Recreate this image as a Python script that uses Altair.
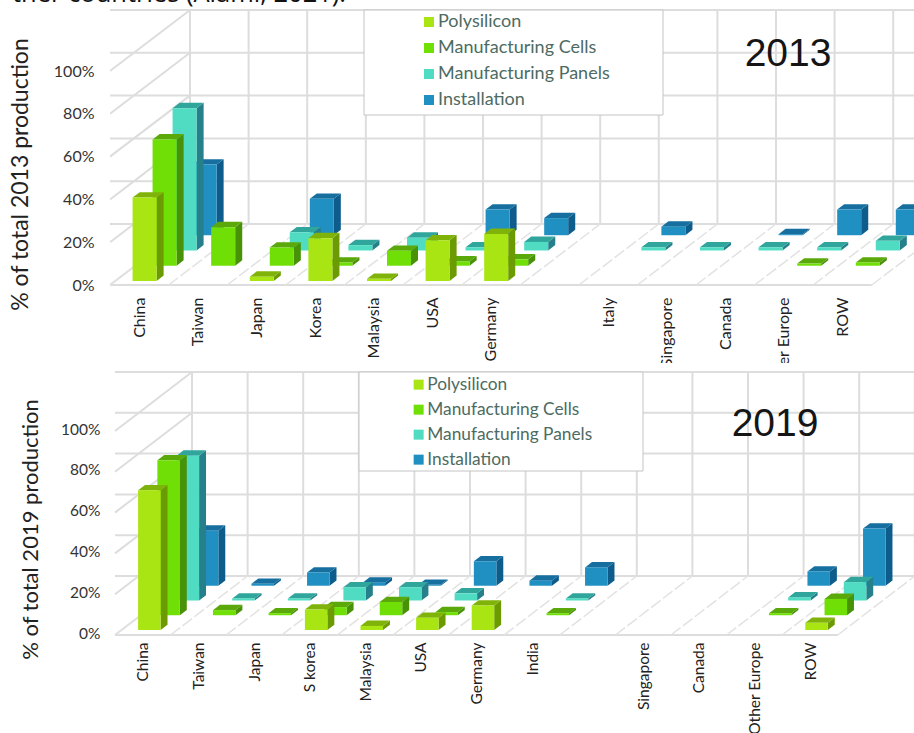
import altair as alt
import pandas as pd

SERIES = ["Polysilicon", "Manufacturing Cells", "Manufacturing Panels", "Installation"]
FRONT = ["#a9e512", "#6fdf05", "#4fdcc2", "#2090c2"]
TOPS = ["#7fb30a", "#5aa80a", "#2fa59c", "#176f9f"]
SIDES = ["#6c9a02", "#479206", "#25808c", "#0d5c8c"]

CATS_2013 = ["China", "Taiwan", "Japan", "Korea", "Malaysia", "USA", "Germany", "", "Italy",
             "Singapore", "Canada", "Other Europe", "ROW"]
POLY_2013 = [39, 0, 2, 20, 1, 19, 22, 0, 0, 0, 0, 0, 0]
CELLS_2013 = [59, 18, 8.5, 1.5, 7, 2, 3, 0, 0, 0, 0, 1, 1.5]
PANELS_2013 = [66.5, 0, 8.5, 2.5, 6, 1.5, 4, 0, 1.5, 1.5, 1.5, 1.5, 4.5]
INSTALL_2013 = [33, 0, 17, 0, 0, 12, 8, 0, 4, 0, 0.5, 12, 12]

CATS_2019 = ["China", "Taiwan", "Japan", "S korea", "Malaysia", "USA", "Germany", "India", "",
             "Singapore", "Canada", "Other Europe", "ROW"]
POLY_2019 = [68.5, 0, 0, 10, 2, 6, 12, 0, 0, 0, 0, 0, 3.5]
CELLS_2019 = [76, 2.5, 1, 4, 6.5, 1.5, 0, 1, 0, 0, 0, 1, 8]
PANELS_2019 = [71, 1, 1, 6.5, 6.5, 3.5, 0, 1, 0, 0, 0, 1.5, 9]
INSTALL_2019 = [27, 1, 6.5, 1.5, 0.5, 12, 2.5, 9, 0, 0, 0, 7, 28]

TICKS = [0, 20, 40, 60, 80, 100]
FONT = "Lato"
GRID = "#dddddd"


def panel(cats, rows, year, title, cfg):
    """Draw one pseudo-3D bar panel: x is in category slots, y in percent."""
    depth_x, depth_y = cfg["depth_x"], cfg["depth_y"]
    x_scale = alt.Scale(domain=cfg["xdom"], nice=False, zero=False)
    y_scale = alt.Scale(domain=cfg["ydom"], nice=False, zero=False)
    positions = [i + 0.5 for i, c in enumerate(cats) if c]
    names = "[" + ",".join(repr(c) for c in cats) + "]"
    x_axis = alt.Axis(values=positions, labelExpr=f"{names}[floor(datum.value)]", labelAngle=-90,
                      labelAlign="right", labelBaseline="middle", labelFontSize=cfg["tick"], labelFont=FONT,
                      labelColor="#222222", labelPadding=cfg["xpad"], labelOverlap=False, labelFlush=False,
                      labelBound=False, domain=False, ticks=False, grid=False, title=None)
    y_axis = alt.Axis(values=TICKS, labelExpr="datum.value + '%'", labelFontSize=cfg["tick"], labelFont=FONT,
                      labelColor="#333333", labelPadding=cfg["ypad"], labelOffset=cfg["yoff"], labelOverlap=False,
                      labelBound=False, domain=False, ticks=False, grid=False, title=title, titleFont=FONT,
                      titleFontSize=cfg["title"], titleFontWeight="normal", titleColor="#222222",
                      titleX=cfg["title_x"], titleY=cfg["title_y"], titleAngle=-90, titleAlign="center",
                      titleBaseline="middle")
    X = alt.X("x:Q", scale=x_scale, axis=x_axis)
    Y = alt.Y("y:Q", scale=y_scale, axis=y_axis)

    n = len(cats)
    lines = []
    for t in TICKS:
        lines.append(dict(x=0, x2=n + depth_x, y=t + depth_y, y2=t + depth_y, k="back"))
        lines.append(dict(x=0, x2=depth_x, y=t, y2=t + depth_y, k="wall"))
    for i in range(n + 1):
        lines.append(dict(x=i + depth_x, x2=i + depth_x, y=depth_y, y2=100 + depth_y, k="back"))
        lines.append(dict(x=i, x2=i + depth_x, y=0, y2=depth_y, k="floor"))
    lines.append(dict(x=0, x2=n, y=0, y2=0, k="front"))
    grid_df = pd.DataFrame(lines)

    solid = (
        alt.Chart(grid_df[grid_df.k.isin(["back", "wall", "front"])])
        .mark_rule(stroke=GRID, strokeWidth=2, clip=True)
        .encode(x=X, x2="x2", y=Y, y2="y2")
    )
    floor = (
        alt.Chart(grid_df[grid_df.k == "floor"])
        .mark_rule(stroke="#e2e2e2", strokeWidth=1.5, strokeDash=[12, 3], clip=True)
        .encode(x=X, x2="x2", y=Y, y2="y2")
    )
    layers = [solid, floor]

    box = cfg["box"]
    layers.append(
        alt.Chart(pd.DataFrame({"a": [0]}))
        .mark_rect(fill="white", stroke="#c4c4c4", strokeWidth=1)
        .encode(x=alt.value(box[0]), x2=alt.value(box[1]), y=alt.value(box[2]), y2=alt.value(box[3]))
    )

    legend = alt.Legend(orient="none", legendX=cfg["legend"][0], legendY=cfg["legend"][1], title=None,
                        symbolType="square", symbolSize=100, symbolStrokeWidth=0, labelFont=FONT,
                        labelFontSize=cfg["legend"][2], labelColor="#4d6b62", labelLimit=400,
                        rowPadding=cfg["legend"][3], labelOffset=0, padding=0)
    color_scale = alt.Scale(domain=SERIES, range=FRONT)

    # Rows are painted back to front so nearer bars hide the ones behind them.
    for r in [3, 2, 1, 0]:
        d0 = cfg["d0"] + r * cfg["step"]
        d1 = d0 + cfg["bar_depth"]
        bw = cfg["bar_width"]
        offset = (1 - bw) / 2
        front, side, top = [], [], []
        for k, v in enumerate(rows[r]):
            if v <= 0:
                continue
            xa = k + offset + d0 * depth_x
            xb = xa + bw
            sx = (d1 - d0) * depth_x
            ya = d0 * depth_y
            yb = d1 * depth_y
            front.append(dict(x=xa, x2=xb, y=ya, y2=ya + v, series=SERIES[r]))
            side.append(dict(k=k, x=xb, y=ya, y2=ya + v))
            side.append(dict(k=k, x=xb + sx, y=yb, y2=yb + v))
            top.append(dict(k=k, x=xa, x2=xb, y=ya + v))
            top.append(dict(k=k, x=xa + sx, x2=xb + sx, y=yb + v))
        layers.append(
            alt.Chart(pd.DataFrame(side))
            .mark_area(color=SIDES[r], clip=True)
            .encode(x=X, y=Y, y2="y2", detail="k:N")
        )
        layers.append(
            alt.Chart(pd.DataFrame(top))
            .mark_area(color=TOPS[r], orient="horizontal", clip=True)
            .encode(x=X, x2="x2", y=Y, detail="k:N")
        )
        layers.append(
            alt.Chart(pd.DataFrame(front))
            .mark_rect(clip=True)
            .encode(x=X, x2="x2", y=Y, y2="y2", color=alt.Color("series:N", scale=color_scale, legend=legend))
        )

    layers.append(
        alt.Chart(pd.DataFrame({"t": [year]}))
        .mark_text(font="Liberation Sans", fontSize=39, color="#151515", align="center", baseline="middle")
        .encode(x=alt.value(cfg["year"][0]), y=alt.value(cfg["year"][1]), text="t:N")
    )
    return layers


top_cfg = dict(depth_x=80 / 58.6, depth_y=61 / 2.14, xdom=[0, 804 / 58.6], ydom=[-2 / 2.14, 284 / 2.14],
               d0=0.066, step=0.25, bar_depth=0.088, bar_width=24 / 58.6, tick=16, xpad=10, ypad=16, yoff=0,
               title=23, title_x=-90, title_y=173, box=(254, 553, 9, 114), legend=(310, 12, 18, 8),
               year=(678, 53))
bottom_cfg = dict(depth_x=77 / 55.6, depth_y=59 / 2.04, xdom=[-5 / 55.6, 799 / 55.6], ydom=[-2 / 2.04, 272 / 2.04],
                  d0=0.085, step=0.25, bar_depth=0.09, bar_width=22.5 / 55.6, tick=15.5, xpad=5, ypad=10, yoff=-2,
                  title=22, title_x=-80, title_y=166, box=(249, 533, 9, 108), legend=(300, 13, 17.3, 7),
                  year=(665, 61))

top_layers = panel(CATS_2013, [POLY_2013, CELLS_2013, PANELS_2013, INSTALL_2013], "2013",
                   "% of total 2013 production", top_cfg)
top_layers.append(
    alt.Chart(pd.DataFrame({"t": ["ther countries (Alami, 2021)."]}))
    .mark_text(font="Open Sans", fontSize=25.5, color="#111111", align="left", baseline="alphabetic")
    .encode(x=alt.value(-98), y=alt.value(1), text="t:N")
)
bottom_layers = panel(CATS_2019, [POLY_2019, CELLS_2019, PANELS_2019, INSTALL_2019], "2019",
                      "% of total 2019 production", bottom_cfg)

upper = alt.layer(*top_layers).properties(width=804, height=286, view=alt.ViewBackground(stroke=None))
lower = alt.layer(*bottom_layers).properties(
    width=804, height=274, view=alt.ViewBackground(stroke=None, fill="white")
)
chart = (
    alt.vconcat(upper, lower, spacing=76, bounds="flush")
    .resolve_scale(color="independent", x="independent", y="independent")
    .properties(padding={"left": 9, "top": -18, "right": 0, "bottom": 0}, background="white")
)
chart.save("out.html", embed_options={"renderer": "svg", "actions": False})
